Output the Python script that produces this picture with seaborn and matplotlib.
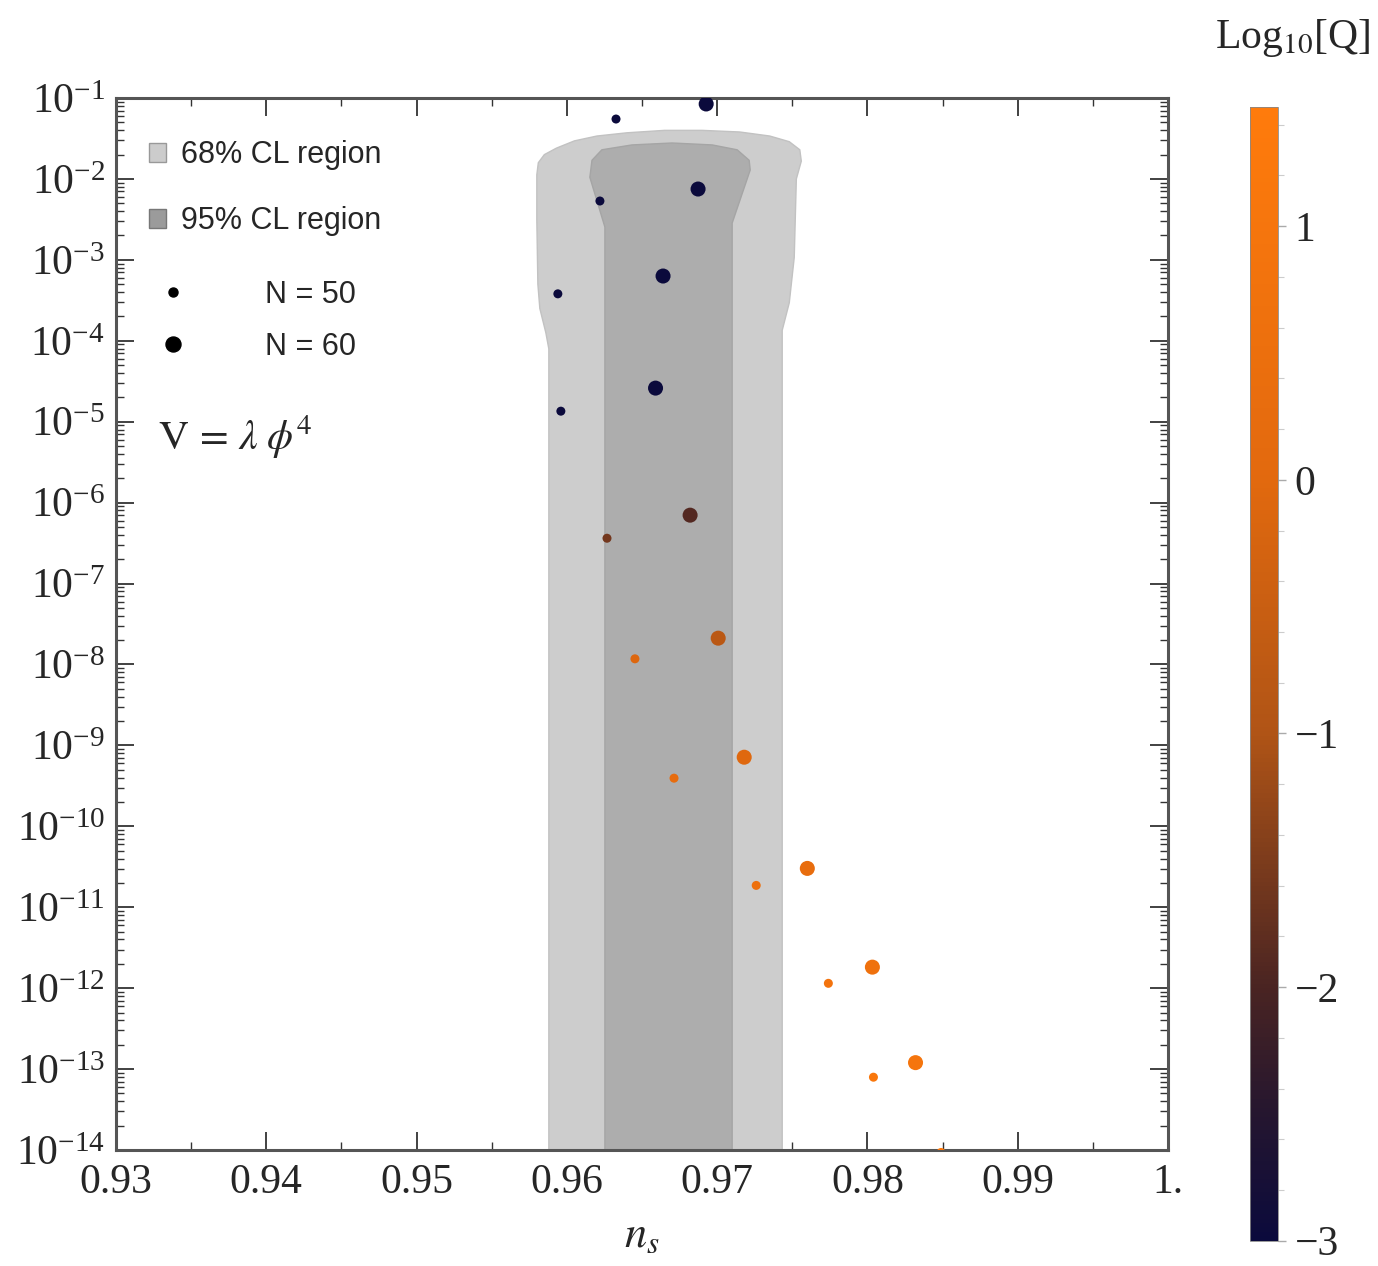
import numpy as np
import pandas as pd
import matplotlib
matplotlib.use("Agg")
import matplotlib.pyplot as plt
import seaborn as sns
from matplotlib.colors import LinearSegmentedColormap, Normalize
from matplotlib.cm import ScalarMappable
from matplotlib.ticker import LogLocator, NullFormatter, FixedLocator, MultipleLocator, FixedFormatter
from matplotlib.patches import Patch
from matplotlib.lines import Line2D

# ---------------- data ----------------
ns_N60 = [0.96927, 0.96873, 0.9664, 0.9659, 0.9682, 0.97007, 0.9718, 0.9760, 0.98033, 0.9832]
logr_N60 = [-1.074, -2.125, -3.20, -4.585, -6.155, -7.675, -9.146, -10.52, -11.74, -12.92]
logQ_N60 = [-3.3, -3.2, -3.1, -3.0, -1.9, -0.8, -0.05, 0.3, 0.65, 0.95]

ns_N50 = [0.96327, 0.9622, 0.9594, 0.9596, 0.96267, 0.96453, 0.96713, 0.9726, 0.9774, 0.9804, 0.9849]
logr_N50 = [-1.26, -2.273, -3.42, -4.87, -6.44, -7.93, -9.405, -10.73, -11.94, -13.10, -14.03]
logQ_N50 = [-3.3, -3.2, -3.1, -3.0, -1.6, -0.1, 0.25, 0.55, 0.85, 1.15, 1.4]

# confidence-region boundaries (ns, log10 r)
cl68_ns = [0.95880, 0.95880, 0.95860, 0.95820, 0.95807, 0.95800, 0.95800, 0.95810, 0.95850,
           0.95930, 0.96050, 0.96200, 0.96400, 0.96650, 0.96900, 0.97150, 0.97350, 0.97480,
           0.97550, 0.97560, 0.97527, 0.97513, 0.97480, 0.97433, 0.97433]
cl68_logr = [-14.3, -4.10, -3.90, -3.60, -3.30, -2.50, -1.95, -1.80, -1.70,
             -1.62, -1.53, -1.47, -1.43, -1.40, -1.40, -1.42, -1.47, -1.54,
             -1.64, -1.78, -2.00, -2.97, -3.53, -3.87, -14.3]

cl95_ns = [0.96253, 0.96253, 0.96153, 0.96167, 0.96233, 0.96433, 0.96700, 0.96967,
           0.97133, 0.97213, 0.97220, 0.97100, 0.97100]
cl95_logr = [-14.3, -2.595, -1.98, -1.77, -1.64, -1.58, -1.556, -1.58,
             -1.64, -1.77, -1.89, -2.545, -14.3]

x_ticks = [0.93, 0.94, 0.95, 0.96, 0.97, 0.98, 0.99, 1.00]
x_ticklabels = ["0.93", "0.94", "0.95", "0.96", "0.97", "0.98", "0.99", "1."]
cbar_ticks = [-3, -2, -1, 0, 1]
q_min, q_max = -3.0, 1.47

# ---------------- style ----------------
sns.set_style("ticks")
plt.rcParams["font.family"] = ["Liberation Serif", "DejaVu Serif"]
plt.rcParams["mathtext.fontset"] = "stix"

df = pd.DataFrame({
    "ns": ns_N60 + ns_N50,
    "r": list(10.0 ** np.array(logr_N60)) + list(10.0 ** np.array(logr_N50)),
    "logQ": logQ_N60 + logQ_N50,
    "N": [60] * len(ns_N60) + [50] * len(ns_N50),
})

cmap = LinearSegmentedColormap.from_list(
    "q", [(0.0, "#0b0a3c"), (0.5 / 4.47, "#25162f"), (1 / 4.47, "#4a2422"),
          (2 / 4.47, "#b05416"), (3 / 4.47, "#e2690e"), (1.0, "#ff7b0c")])
norm = Normalize(vmin=q_min, vmax=q_max)

fig = plt.figure(figsize=(13.78, 12.66), dpi=100)
ax = fig.add_axes([0.0842, 0.0916, 0.7634, 0.8310])

ax.fill(cl68_ns, 10.0 ** np.array(cl68_logr), facecolor="#cdcdcd", edgecolor="#c2c2c2", lw=1, zorder=1)
ax.fill(cl95_ns, 10.0 ** np.array(cl95_logr), facecolor="#adadad", edgecolor="#a5a5a5", lw=1, zorder=2)

sns.scatterplot(data=df, x="ns", y="r", hue="logQ", size="N", sizes={50: 42, 60: 117},
                palette=cmap, hue_norm=norm, linewidth=0, legend=False, ax=ax, zorder=3)

ax.set_yscale("log")
ax.set_xlim(0.93, 1.0)
ax.set_ylim(1e-14, 1e-1)

ax.xaxis.set_major_locator(FixedLocator(x_ticks))
ax.xaxis.set_major_formatter(FixedFormatter(x_ticklabels))
ax.xaxis.set_minor_locator(MultipleLocator(0.005))
ax.yaxis.set_major_locator(LogLocator(base=10, numticks=30))
ax.yaxis.set_minor_locator(LogLocator(base=10, subs=np.arange(2, 10), numticks=300))
ax.yaxis.set_minor_formatter(NullFormatter())

ax.tick_params(which="both", direction="in", top=True, right=True, color="#333333")
ax.tick_params(which="major", length=13, width=1.3, labelsize=30, pad=8)
ax.tick_params(axis="x", which="major", pad=10)
ax.tick_params(which="minor", length=6, width=1.0)
for s in ax.spines.values():
    s.set_linewidth(2.2)
    s.set_color("#555555")

ax.set_xlabel(r"$n_s$", fontsize=32, labelpad=10)
ax.set_ylabel("")

ax.text(0.04, 0.678, r"$\mathrm{V}\,=\,\lambda\;\phi^4$", transform=ax.transAxes,
        fontsize=30, va="center", ha="left")

# legends
h1 = [Patch(facecolor="#cccccc", edgecolor="#999999", label="68% CL region"),
      Patch(facecolor="#9b9b9b", edgecolor="#777777", label="95% CL region")]
leg1 = ax.legend(handles=h1, loc="center left", bbox_to_anchor=(0.0314, 0.914), frameon=False,
                 prop={"family": "Liberation Sans", "size": 22}, handlelength=0.55, handleheight=0.55,
                 handletextpad=0.5, labelspacing=1.18, borderpad=0, borderaxespad=0)
ax.add_artist(leg1)
h2 = [Line2D([], [], ls="none", marker="o", color="black", markersize=6.5, label="N = 50"),
      Line2D([], [], ls="none", marker="o", color="black", markersize=10.8, label="N = 60")]
ax.legend(handles=h2, loc="center left", bbox_to_anchor=(0.0105, 0.788), frameon=False,
          prop={"family": "Liberation Sans", "size": 22}, handlelength=3, handletextpad=1.53,
          labelspacing=0.72, borderpad=0, borderaxespad=0)

# colorbar
cax = fig.add_axes([0.9071, 0.0200, 0.0203, 0.8955])
cb = fig.colorbar(ScalarMappable(norm=norm, cmap=cmap), cax=cax)
cb.set_ticks(cbar_ticks)
cb.ax.yaxis.set_minor_locator(MultipleLocator(0.2))
cb.ax.tick_params(which="major", direction="out", length=6, width=1, color="#aaaaaa", labelsize=30, pad=6)
cb.ax.tick_params(which="minor", direction="out", length=4, width=0.8, color="#cccccc")
cb.outline.set_linewidth(0.6)
cb.outline.set_edgecolor("#888888")
fig.text(0.938, 0.970, r"Log$_{10}$[Q]", ha="center", va="center", fontsize=30)

fig.savefig("out.png", dpi=100)
